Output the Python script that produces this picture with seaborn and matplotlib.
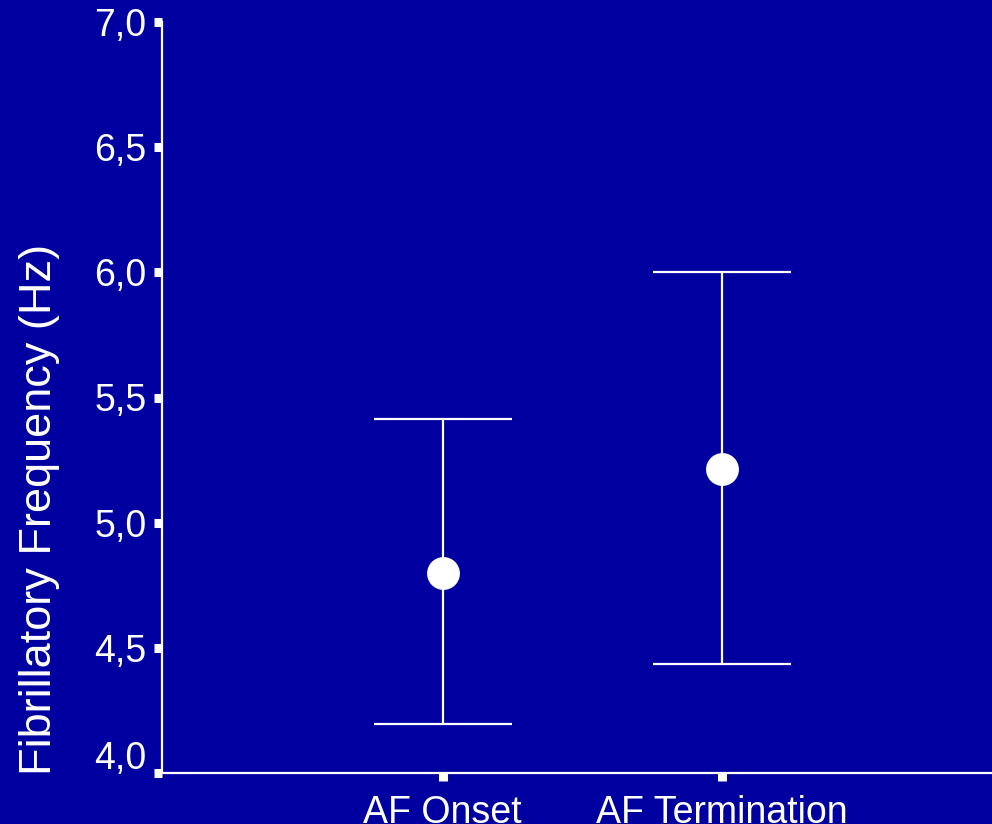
import matplotlib
matplotlib.use("Agg")
import matplotlib.pyplot as plt
import matplotlib.transforms as mtransforms
import seaborn as sns
import pandas as pd

# Mean dominant frequency at onset and termination, with spread
categories = ["AF Onset", "AF Termination"]
means = [4.80, 5.215]
err_low = [0.605, 0.78]
err_high = [0.615, 0.785]
y_ticks = [4.0, 4.5, 5.0, 5.5, 6.0, 6.5, 7.0]
y_tick_labels = ["4,0", "4,5", "5,0", "5,5", "6,0", "6,5", "7,0"]

bg = "#0000A0"
fg = "white"

sns.set_theme(style="ticks")
plt.rcParams["font.family"] = ["Liberation Sans", "DejaVu Sans"]

fig = plt.figure(figsize=(9.92, 8.24), dpi=100, facecolor=bg)
ax = fig.add_axes([162 / 992, 1 - 773 / 824, 830 / 992, (773 - 22) / 824])
ax.set_facecolor(bg)

df = pd.DataFrame({"phase": categories, "freq": means})

ax.errorbar(categories, means, yerr=[err_low, err_high], fmt="none",
            ecolor=fg, elinewidth=1.6, capsize=50, capthick=1.6, zorder=2)
sns.scatterplot(data=df, x="phase", y="freq", ax=ax, s=560, color=fg,
                edgecolor=fg, linewidth=0, zorder=3, legend=False)

ax.set_xlim(-1.007, 1.97)
ax.set_ylim(4.0, 7.0)
ax.set_yticks(y_ticks)
ax.set_yticklabels(y_tick_labels)

ax.set_xlabel("")
ax.set_ylabel("Fibrillatory Frequency (Hz)", color=fg, fontsize=32.5)
ax.yaxis.set_label_coords(-0.1229, 0.3515)

for side in ["top", "right"]:
    ax.spines[side].set_visible(False)
for side in ["left", "bottom"]:
    ax.spines[side].set_color(fg)
    ax.spines[side].set_linewidth(1.6)

ax.tick_params(axis="both", colors=fg, labelcolor=fg, labelsize=27,
               length=6, width=6.5, direction="out")
ax.tick_params(axis="y", pad=5)
ax.tick_params(axis="x", pad=10)

# lift the lowest y label clear of the x axis line
lowest = ax.get_yticklabels()[0]
lowest.set_transform(lowest.get_transform() +
                     mtransforms.ScaledTranslation(0, 18 / 100, fig.dpi_scale_trans))

fig.savefig("out.png", dpi=100, facecolor=bg)
